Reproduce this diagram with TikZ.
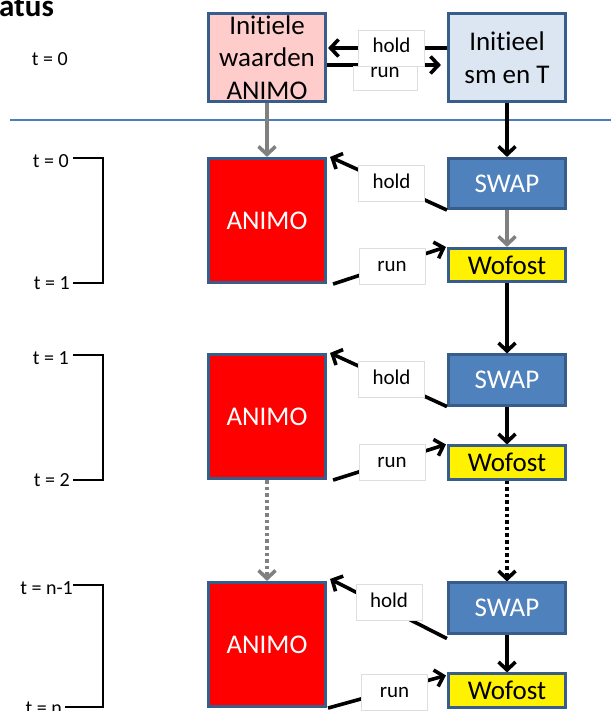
\documentclass[tikz,border=0pt]{standalone}
\usepackage{fontspec}
\setmainfont[Ligatures=NoCommon]{Carlito}
\usetikzlibrary{arrows.meta}

\definecolor{edgeblue}{RGB}{56,93,138}
\definecolor{swapblue}{RGB}{79,129,189}
\definecolor{pinkfill}{RGB}{255,204,204}
\definecolor{paleblue}{RGB}{220,230,242}
\definecolor{rulerblue}{RGB}{74,126,187}
\definecolor{lblgray}{RGB}{222,222,222}
\definecolor{flowgray}{RGB}{128,128,128}

\begin{document}
\begin{tikzpicture}[
    x=1pt, y=-1pt,
    every node/.style={inner sep=0pt},
    box/.style={draw=edgeblue, line width=2.6pt, minimum width=117.5pt, align=center,
                font=\fontsize{27}{32.5}\selectfont},
    model/.style={box, fill=red, text=white, minimum height=124.5pt},
    swapbox/.style={box, fill=swapblue, text=white, minimum height=50.5pt},
    wofbox/.style={box, fill=yellow, minimum height=33.5pt},
    lbl/.style={draw=lblgray, fill=white, line width=0.6pt, minimum width=66pt,
                minimum height=36pt, text height=14pt, text depth=4pt,
                font=\fontsize{21}{24}\selectfont},
    flow/.style={line width=3.6pt, -{Straight Barb[length=8pt,width=17pt]}},
    grayflow/.style={flow, draw=flowgray},
    dots/.style={dash pattern=on 3.6pt off 3pt},
    tlab/.style={anchor=east, font=\fontsize{20}{22}\selectfont},
    bracket/.style={line width=2.2pt}
  ]
  \useasboundingbox (0,0) rectangle (611,711);

  % heading (cut off at the left) and the initial state row
  \node[anchor=base west, font=\bfseries\fontsize{31}{32}\selectfont] (title) at (-1,17) {atus};
  \node[tlab] (tinit) at (68,59) {t = 0};

  \node[box, fill=pinkfill, minimum height=88.5pt] (iniA) at (267,57.5) {Initiele\\waarden\\ANIMO};
  \node[box, fill=paleblue, minimum height=88.5pt] (iniS) at (507,57.5) {Initieel\\sm en T};

  \draw[flow] (iniS.west |- 0,48) -- ([xshift=1pt]iniA.east |- 0,48);
  \draw[flow] (iniA.east |- 0,65) -- ([xshift=-6pt]iniS.west |- 0,65);
  \node[lbl] (holdI) at (391.5,48) {hold};
  \node[lbl, minimum width=64pt, minimum height=24pt, text height=8pt, text depth=8pt]
       (runI) at (385,78) {run};

  % separator
  \draw[rulerblue, line width=2.8pt] (10,120) -- (611,120);

  % time step 0 -> 1
  \node[model]   (a1) at (267,220.5) {ANIMO};
  \node[swapbox] (s1) at (507,183.5) {SWAP};
  \node[wofbox]  (w1) at (507,265)   {Wofost};

  % time step 1 -> 2
  \node[model]   (a2) at (267,416.5) {ANIMO};
  \node[swapbox] (s2) at (507,380)   {SWAP};
  \node[wofbox]  (w2) at (507,462.5) {Wofost};

  % time step n-1 -> n
  \node[model]   (a3) at (267,644.5) {ANIMO};
  \node[swapbox] (s3) at (507,608)   {SWAP};
  \node[wofbox]  (w3) at (507,690.5) {Wofost};

  % vertical flow
  \draw[grayflow] (iniA) -- (a1);
  \draw[flow]     (iniS) -- (s1);
  \draw[grayflow] (s1) -- (w1);
  \draw[flow]     (w1) -- (s2);
  \draw[flow]     (s2) -- (w2);
  \draw[grayflow, dots] (a2) -- (a3);
  \draw[flow, dots]     (w2) -- (s3);
  \draw[flow]     (s3) -- (w3);

  % hold / run exchange per step
  \draw[flow] (s1.south west) -- ([xshift=3pt]a1.north east);
  \draw[flow] ([xshift=6pt]a1.south east) -- ([xshift=-1pt]w1.north west);
  \node[lbl] (hold1) at (391.5,183.5) {hold};
  \node[lbl] (run1)  at (392,266.5)   {run};

  \draw[flow] (s2.south west) -- ([xshift=3pt]a2.north east);
  \draw[flow] ([xshift=6pt]a2.south east) -- ([xshift=-1pt]w2.north west);
  \node[lbl] (hold2) at (391.5,379.5) {hold};
  \node[lbl] (run2)  at (392,462.5)   {run};

  \draw[flow] ([yshift=-4pt]s3.south west) -- ([xshift=3pt,yshift=2pt]a3.north east);
  \draw[flow] ([xshift=1pt]a3.south east) -- ([xshift=-1pt,yshift=-3pt]w3.north west);
  \node[lbl] (hold3) at (389,602)   {hold};
  \node[lbl] (run3)  at (394.5,692) {run};

  % time brackets
  \node[tlab] (t0) at (69,161) {t = 0};
  \node[tlab] (t1) at (70,283) {t = 1};
  \draw[bracket] (73,158) -- (103,158) -- (103,283) -- (73,283);

  \node[tlab] (t1b) at (69,358) {t = 1};
  \node[tlab] (t2)  at (70,480) {t = 2};
  \draw[bracket] (73,355) -- (103,355) -- (103,480) -- (73,480);

  \node[tlab] (tn1) at (73,588) {t = n-1};
  \node[tlab] (tn)  at (62,708) {t = n};
  \draw[bracket] (73,585) -- (103,585) -- (103,707) -- (65,707);
\end{tikzpicture}
\end{document}
